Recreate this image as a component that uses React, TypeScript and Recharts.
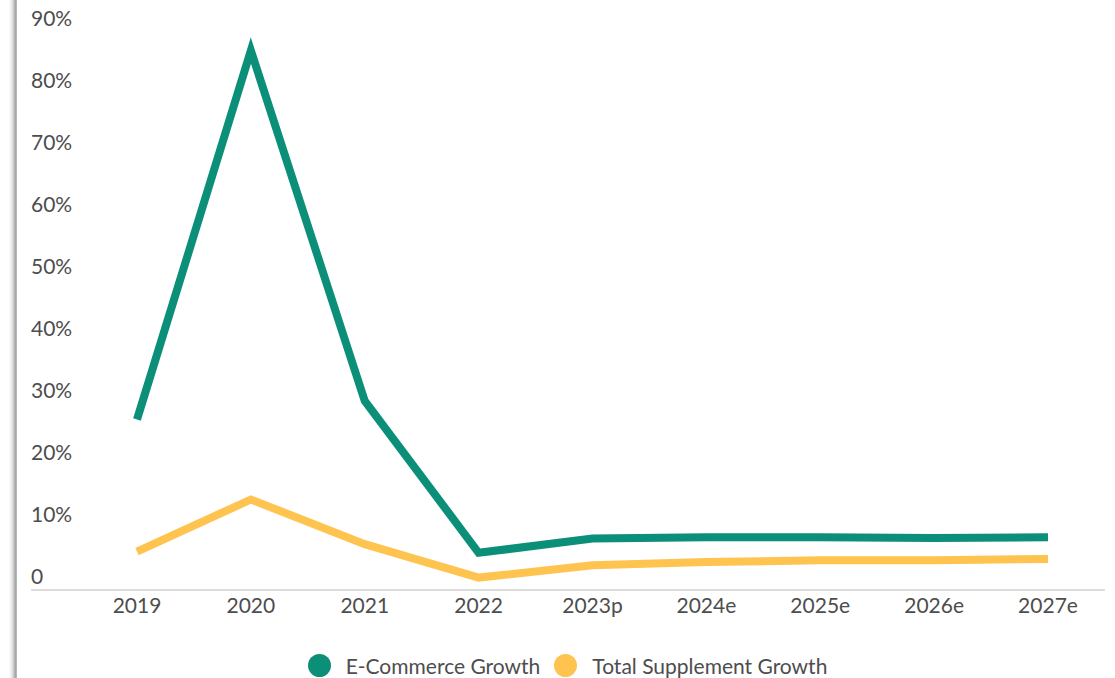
import { LineChart, Line, XAxis, YAxis, Legend } from 'recharts'

const years = ['2019', '2020', '2021', '2022', '2023p', '2024e', '2025e', '2026e', '2027e']
const ecommerceGrowth = [27.5, 87, 30.5, 6, 8.3, 8.5, 8.5, 8.4, 8.5]
const supplementGrowth = [6.2, 14.6, 7.4, 2.0, 4.0, 4.5, 4.8, 4.8, 5.0]
const yTicks = [0, 10, 20, 30, 40, 50, 60, 70, 80, 90]

const GREEN = '#0c8f79'
const ORANGE = '#fec44f'
const TEXT = '#4d4d4d'
const FONT = 'Lato, "Noto Sans", sans-serif'

const data = years.map((year, i) => ({
  year,
  ecommerce: ecommerceGrowth[i],
  supplement: supplementGrowth[i],
}))

const series = [
  { key: 'ecommerce', label: 'E-Commerce Growth', color: GREEN },
  { key: 'supplement', label: 'Total Supplement Growth', color: ORANGE },
]

// labels sit left-aligned, just above their value
function YTick({ y, payload }: any) {
  const v = payload.value
  return (
    <text x={31} y={y - 13} dy="0.35em" textAnchor="start" fill={TEXT} fontSize={21} fontFamily={FONT}>
      {v === 0 ? '0' : `${v}%`}
    </text>
  )
}

function LegendContent() {
  return (
    <div style={{ display: 'flex', justifyContent: 'center', alignItems: 'center', height: 40, paddingLeft: 20, fontFamily: FONT, fontSize: 21, color: TEXT }}>
      {series.map((s) => (
        <div key={s.key} style={{ display: 'flex', alignItems: 'center', margin: '0 7px' }}>
          <span style={{ width: 23, height: 23, borderRadius: 12, background: s.color, display: 'inline-block', marginRight: 15 }} />
          <span>{s.label}</span>
        </div>
      ))}
    </div>
  )
}

export default function App() {
  return (
    <div style={{ position: 'absolute', left: 0, top: 0, width: 1115, height: 678, background: '#fff', overflow: 'hidden' }}>
      <div style={{ position: 'absolute', left: 9, top: 0, width: 8, height: 678, background: 'linear-gradient(to right, rgba(0,0,0,0), #e2e2e2 40%, #a0a0a0 85%, #c8c8c8)' }} />
      <LineChart width={1115} height={678} data={data} margin={{ top: 32, right: 10, left: 30, bottom: 0 }}>
        <XAxis
          dataKey="year"
          padding={{ left: 106, right: 57 }}
          axisLine={{ stroke: '#dcdcdc', strokeWidth: 2 }}
          tickLine={false}
          tickSize={0}
          tickMargin={8}
          height={40}
          tick={{ fill: TEXT, fontSize: 21, fontFamily: FONT }}
        />
        <YAxis
          domain={[0, 90]}
          ticks={yTicks}
          width={1}
          axisLine={false}
          tickLine={false}
          tick={<YTick />}
          interval={0}
        />
        <Legend verticalAlign="bottom" height={48} content={<LegendContent />} wrapperStyle={{ top: 645, left: 0, width: 1115 }} />
        {series.map((s) => (
          <Line
            key={s.key}
            type="linear"
            dataKey={s.key}
            name={s.label}
            stroke={s.color}
            strokeWidth={8}
            dot={false}
            activeDot={false}
            isAnimationActive={false}
          />
        ))}
      </LineChart>
    </div>
  )
}
